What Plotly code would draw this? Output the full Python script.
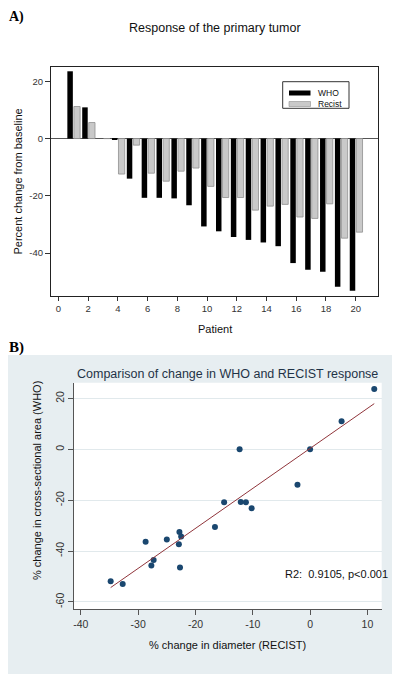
import numpy as np
import plotly.graph_objects as go

# ---------------- data ----------------
patients = list(range(1, 21))
who_bar = [23.5, 10.9, 0.0, -0.3, -14.0, -20.7, -20.7, -20.9, -23.3, -30.7,
           -32.4, -34.4, -35.4, -36.3, -37.6, -43.5, -45.8, -46.5, -51.8, -53.2]
recist_bar = [11.2, 5.6, 0.0, -12.4, -2.3, -12.1, -14.9, -11.4, -10.3, -16.7,
              -20.6, -20.6, -25.0, -23.6, -23.0, -27.4, -27.9, -22.8, -34.8, -32.7]

scatter_recist = [11.2, 5.5, 0.0, -12.3, -2.2, -12.1, -15.0, -11.2, -10.2, -16.6,
                  -22.8, -22.5, -25.0, -28.7, -22.9, -27.3, -27.7, -22.7, -34.8, -32.7]
scatter_who = [23.7, 11.0, 0.0, 0.0, -13.9, -20.7, -20.8, -20.8, -23.2, -30.5,
               -32.5, -34.3, -35.5, -36.3, -37.3, -43.5, -45.7, -46.5, -51.9, -53.0]

a_xticks = list(range(0, 21, 2))
a_yticks = [-40, -20, 0, 20]
a_yticktext = ["-40", "-20", "0", "20"]
b_xticks = [-40, -30, -20, -10, 0, 10]
b_xticktext = ["-40", "-30", "-20", "-10", "0", "10"]
b_yticks = [-60, -40, -20, 0, 20]
b_yticktext = ["-60", "-40", "-20", "0", "20"]
r2_label = "R2:\u00a0 0.9105, p<0.001"

# ---------------- layout helpers ----------------
# the page body has an 8px margin, so the figure starts at (8, 8)
OFF = 8
W, H = 400 - OFF, 680 - OFF
def px(x):
    return (x - OFF) / W
def py(y):
    return 1 - (y - OFF) / H

SANS = "Liberation Sans, Arial, sans-serif"
SERIF = "Liberation Serif, Times New Roman, serif"
STATA_NAVY = "#1a476f"
STATA_MAROON = "#90353b"
BLUEGRAY = "#e7eef1"

fig = go.Figure()

# Panel A bars
fig.add_trace(go.Bar(x=patients, y=who_bar, name="WHO", offset=-0.40, width=0.37,
                     marker=dict(color="black", line=dict(width=0)),
                     xaxis="x", yaxis="y", showlegend=False))
fig.add_trace(go.Bar(x=patients, y=recist_bar, name="Recist", offset=0.04, width=0.42,
                     marker=dict(color="#c9c9c9", line=dict(color="#8f8f8f", width=0.8)),
                     xaxis="x", yaxis="y", showlegend=False))

# Panel B scatter + fit
fig.add_trace(go.Scatter(x=scatter_recist, y=scatter_who, mode="markers",
                         marker=dict(color=STATA_NAVY, size=6),
                         xaxis="x2", yaxis="y2", showlegend=False))
slope, intercept = np.polyfit(scatter_recist, scatter_who, 1)
xf = np.array([min(scatter_recist), max(scatter_recist)])
fig.add_trace(go.Scatter(x=xf, y=slope * xf + intercept, mode="lines",
                         line=dict(color=STATA_MAROON, width=1),
                         xaxis="x2", yaxis="y2", showlegend=False))

fig.update_layout(
    width=W, height=H,
    margin=dict(l=0, r=0, t=0, b=0),
    paper_bgcolor="white",
    plot_bgcolor="rgba(0,0,0,0)",
    barmode="overlay",
    font=dict(family=SANS, color="#222"),
    xaxis=dict(domain=[px(51), px(378)], range=[-0.5, 21.5], tickvals=a_xticks,
               ticks="outside", ticklen=4, tickcolor="#333", showline=True, mirror=True,
               linecolor="#222", linewidth=1, showgrid=False, zeroline=False,
               tickfont=dict(size=9.5, color="#333"), anchor="y"),
    yaxis=dict(domain=[py(296), py(67)], range=[-55, 25], tickvals=a_yticks,
               ticktext=a_yticktext, ticks="outside", ticklen=5, tickcolor="#333",
               showline=True, mirror=True, linecolor="#222", linewidth=1,
               showgrid=False, zeroline=True, zerolinecolor="#555", zerolinewidth=1,
               tickfont=dict(size=9.5, color="#333"), anchor="x"),
    xaxis2=dict(domain=[px(74), px(381.7)], range=[-41.2, 12.5], tickvals=b_xticks,
                ticktext=b_xticktext, ticks="outside", ticklen=5, tickcolor="#555",
                showline=True, mirror=False, linecolor="#555", linewidth=1,
                showgrid=False, zeroline=False, tickfont=dict(size=10.5, color="#333"),
                anchor="y2"),
    yaxis2=dict(domain=[py(609.3), py(382.7)], range=[-62.9, 26.2], tickvals=b_yticks,
                ticktext=b_yticktext, ticks="outside", ticklen=5, tickcolor="#555",
                showline=True, mirror=False, linecolor="#555", linewidth=1,
                showgrid=True, gridcolor="#e1e9ec", gridwidth=1, zeroline=False,
                tickangle=-90, tickfont=dict(size=10.5, color="#333"), anchor="x2"),
    shapes=[
        dict(type="rect", xref="paper", yref="paper", x0=px(7), x1=px(392),
             y0=py(674), y1=py(355), fillcolor=BLUEGRAY, line=dict(width=0), layer="below"),
        dict(type="rect", xref="x2 domain", yref="y2 domain", x0=0, x1=1, y0=0, y1=1,
             fillcolor="white", line=dict(width=0), layer="below"),
        # legend box and swatches (panel A)
        dict(type="rect", xref="paper", yref="paper", x0=px(282.7), x1=px(349),
             y0=py(108.3), y1=py(81.7), fillcolor="white",
             line=dict(color="#333", width=1), layer="above"),
        dict(type="rect", xref="paper", yref="paper", x0=px(289), x1=px(310.5),
             y0=py(95.5), y1=py(90.5), fillcolor="black", line=dict(width=0), layer="above"),
        dict(type="rect", xref="paper", yref="paper", x0=px(289), x1=px(310.5),
             y0=py(106.5), y1=py(101.5), fillcolor="#c9c9c9",
             line=dict(color="#8f8f8f", width=0.6), layer="above"),
    ],
    annotations=[
        dict(text="<b>A)</b>", x=px(8), y=1.0, xref="paper", yref="paper",
             xanchor="left", yanchor="top", showarrow=False, borderpad=0,
             font=dict(family=SERIF, size=14, color="black")),
        dict(text="<b>B)</b>", x=px(7), y=py(347.5), xref="paper", yref="paper",
             xanchor="left", yanchor="middle", showarrow=False,
             font=dict(family=SERIF, size=15, color="black")),
        dict(text="Response of the primary tumor", x=px(215), y=py(28), xref="paper",
             yref="paper", xanchor="center", yanchor="middle", showarrow=False,
             font=dict(size=12.5, color="#111")),
        dict(text="Patient", x=px(215), y=py(329), xref="paper", yref="paper",
             xanchor="center", yanchor="middle", showarrow=False,
             font=dict(size=11, color="#111")),
        dict(text="Percent change from baseline", x=px(17), y=py(181.5), xref="paper",
             yref="paper", xanchor="center", yanchor="middle", textangle=-90,
             showarrow=False, font=dict(size=11, color="#111")),
        dict(text="WHO", x=px(316), y=py(93), xref="paper", yref="paper",
             xanchor="left", yanchor="middle", showarrow=False,
             font=dict(size=8.5, color="#111")),
        dict(text="Recist", x=px(316), y=py(104), xref="paper", yref="paper",
             xanchor="left", yanchor="middle", showarrow=False,
             font=dict(size=8.5, color="#111")),
        dict(text="Comparison of change in WHO and RECIST response", x=px(227),
             y=py(374), xref="paper", yref="paper", xanchor="center", yanchor="middle",
             showarrow=False, font=dict(size=12.5, color="#1f3347")),
        dict(text="% change in diameter (RECIST)", x=px(227.5), y=py(645), xref="paper",
             yref="paper", xanchor="center", yanchor="middle", showarrow=False,
             font=dict(size=11, color="#111")),
        dict(text="% change in cross-sectional area (WHO)", x=px(37), y=py(481),
             xref="paper", yref="paper", xanchor="center", yanchor="middle",
             textangle=-90, showarrow=False, font=dict(size=11, color="#111")),
        dict(text=r2_label, x=px(283), y=py(574), xref="paper", yref="paper",
             xanchor="left", yanchor="middle", showarrow=False,
             font=dict(size=11, color="#111")),
    ],
)

fig.write_html("out.html")
